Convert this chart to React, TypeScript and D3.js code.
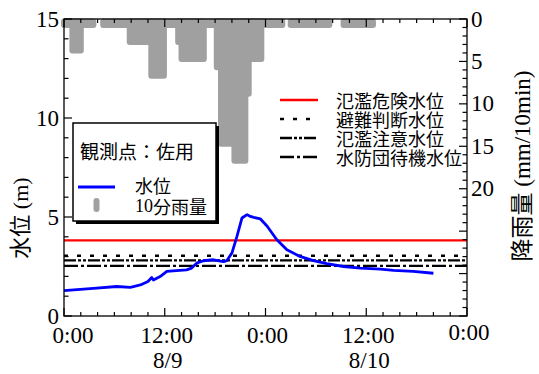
import React from "react";
import * as d3 from "d3";

// water level (m), hours from 8/9 0:00
const levelHours = [0, 3.5, 6.3, 7.9, 9.1, 10.0, 10.45, 10.65, 11.45, 12.25, 13.0, 14.6, 15.2, 15.8, 16.6, 17.8, 19.0, 19.4, 20.0, 20.6, 21.2, 21.8, 22.2, 22.6, 23.4, 24.2, 25.35, 26.55, 28.1, 29.7, 31.3, 33.3, 35.3, 37.7, 39.25, 41.6, 44.0];
const levelValues = [1.28, 1.4, 1.49, 1.45, 1.57, 1.74, 1.94, 1.82, 1.99, 2.25, 2.28, 2.33, 2.42, 2.67, 2.79, 2.84, 2.75, 2.8, 3.18, 4.02, 4.95, 5.12, 5.03, 4.98, 4.9, 4.53, 3.85, 3.35, 3.01, 2.8, 2.64, 2.5, 2.42, 2.37, 2.3, 2.25, 2.16];

// 10-min rainfall, as runs of equal bars (start hour, end hour, mm)
const rainStart = [0, 4.67, 27.0, 33.3, 1.0, 7.83, 10.4, 13.6, 14.0, 18.2, 18.7, 20.3, 21.6, 22.0];
const rainEnd = [3.5, 26.0, 31.6, 36.8, 2.0, 10.4, 11.9, 14.0, 16.65, 18.7, 20.3, 21.6, 22.0, 23.5];
const rainMm = [0.7, 0.7, 0.7, 0.7, 3.7, 2.7, 6.7, 2.7, 4.7, 5.7, 14.7, 16.7, 8.8, 4.7];

// reference levels
const refNames = ["氾濫危険水位", "避難判断水位", "氾濫注意水位", "水防団待機水位"];
const refLevels = [3.82, 3.04, 2.81, 2.53];
const refColors = ["#ff0000", "#000", "#000", "#000"];
const refDash = ["none", "4 9", "12 2 3 2 3 2", "14 3 3 3"];

const xTickHours = [0, 12, 24, 36, 48];
const xTickLabels = ["0:00", "12:00", "0:00", "12:00", "0:00"];
const dateLabels = ["8/9", "8/10"];
const dateHours = [12, 36];
const leftTicks = [0, 5, 10, 15];
const rightTicks = [0, 5, 10, 15, 20];

const serif = "Liberation Serif, Times New Roman, serif";
const cjk = "Noto Sans CJK JP, sans-serif";

export default function App() {
  const W = 539, H = 374;
  const x = d3.scaleLinear().domain([0, 48]).range([64, 467]);
  const yL = d3.scaleLinear().domain([0, 15]).range([316, 19]);
  const yR = d3.scaleLinear().domain([0, 35]).range([19, 316]);
  const [x0, x1] = x.range();
  const [yb, yt] = yL.range();

  const line = d3
    .line<number>()
    .x((d, i) => x(levelHours[i]))
    .y((d) => yL(d));

  const minorX = d3.range(0, 49, 2);
  const minorL = d3.range(0, 16, 1);
  const minorR = d3.range(0, 36, 1);

  return (
    <svg width={W} height={H} style={{ position: "absolute", left: 0, top: 0, background: "#fff" }}>
      {/* rain bars */}
      <g fill="#a0a0a0">
        {rainMm.map((v, i) => (
          <rect
            key={i}
            x={x(rainStart[i]) - 3}
            y={yR(0) - 0.5}
            width={x(rainEnd[i]) - x(rainStart[i]) + 6}
            height={yR(v) - yR(0) + 3.5}
            rx={3}
          />
        ))}
      </g>

      {/* reference lines */}
      {refLevels.map((v, i) => (
        <line key={i} x1={x0} x2={x1} y1={yL(v)} y2={yL(v)} stroke={refColors[i]} strokeWidth={2.4} strokeDasharray={refDash[i]} />
      ))}

      {/* water level */}
      <path d={line(levelValues) || ""} fill="none" stroke="#0000ff" strokeWidth={2.8} strokeLinejoin="round" />

      {/* frame */}
      <rect x={x0} y={yt} width={x1 - x0} height={yb - yt} fill="none" stroke="#000" strokeWidth={1.3} />

      {/* x ticks bottom & top */}
      {minorX.map((h) => {
        const len = h % 12 === 0 ? 8 : 4;
        return (
          <g key={h} stroke="#000" strokeWidth={1.2}>
            <line x1={x(h)} x2={x(h)} y1={yb} y2={yb - len} />
            <line x1={x(h)} x2={x(h)} y1={yt} y2={yt + len} />
          </g>
        );
      })}
      {/* left ticks */}
      {minorL.map((v) => (
        <line key={v} x1={x0} x2={x0 + (v % 5 === 0 ? 8 : 4.5)} y1={yL(v)} y2={yL(v)} stroke="#000" strokeWidth={1.2} />
      ))}
      {/* right ticks */}
      {minorR.map((v) => (
        <line key={v} x1={x1} x2={x1 - (v % 5 === 0 ? 8 : 4.5)} y1={yR(v)} y2={yR(v)} stroke="#000" strokeWidth={1.2} />
      ))}

      {/* tick labels */}
      <g style={{ fontFamily: serif }} fontSize={23} fill="#000">
        {leftTicks.map((v) => (
          <text key={v} x={59} y={yL(v)} textAnchor="end" dominantBaseline="central">
            {v}
          </text>
        ))}
        {rightTicks.map((v) => (
          <text key={v} x={471} y={yR(v)} dominantBaseline="central">
            {v}
          </text>
        ))}
        {xTickHours.map((h, i) => (
          <text key={i} x={x(h) + (i === 0 ? 9 : 2)} y={i === 4 ? 340 : 343} textAnchor="middle">
            {xTickLabels[i]}
          </text>
        ))}
        {dateHours.map((h, i) => (
          <text key={i} x={x(h) + 3} y={368} textAnchor="middle">
            {dateLabels[i]}
          </text>
        ))}
      </g>

      {/* axis titles */}
      <text transform="translate(28,218) rotate(-90)" textAnchor="middle" fontSize={22} fill="#000">
        <tspan style={{ fontFamily: cjk }}>水位</tspan>
        <tspan style={{ fontFamily: serif }}> (m)</tspan>
      </text>
      <text transform="translate(530,166) rotate(-90)" textAnchor="middle" fontSize={23} fill="#000">
        <tspan style={{ fontFamily: cjk }}>降雨量</tspan>
        <tspan style={{ fontFamily: serif }}> (mm/10min)</tspan>
      </text>

      {/* reference legend */}
      {refNames.map((n, i) => {
        const ly = 100 + i * 19;
        return (
          <g key={i}>
            <line x1={280} x2={318} y1={ly} y2={ly} stroke={refColors[i]} strokeWidth={2.4} strokeDasharray={refDash[i]} />
            <text x={336} y={ly} dominantBaseline="central" style={{ fontFamily: cjk }} fontSize={18} fill="#000">
              {n}
            </text>
          </g>
        );
      })}

      {/* station legend box */}
      <rect x={76} y={126} width={143} height={98} fill="#000" />
      <rect x={73} y={123} width={143} height={98} fill="#fff" stroke="#000" strokeWidth={1.5} />
      <text x={80} y={150} dominantBaseline="central" style={{ fontFamily: cjk }} fontSize={19} fill="#000">
        観測点：佐用
      </text>
      <line x1={78} x2={115} y1={187} y2={187} stroke="#0000ff" strokeWidth={2.8} />
      <text x={135} y={185} dominantBaseline="central" style={{ fontFamily: cjk }} fontSize={18} fill="#000">
        水位
      </text>
      <line x1={96.5} x2={96.5} y1={201} y2={209} stroke="#a0a0a0" strokeWidth={6} strokeLinecap="round" />
      <text x={135} y={206} dominantBaseline="central" fontSize={18} fill="#000">
        <tspan style={{ fontFamily: serif }}>10</tspan>
        <tspan style={{ fontFamily: cjk }}>分雨量</tspan>
      </text>
    </svg>
  );
}
